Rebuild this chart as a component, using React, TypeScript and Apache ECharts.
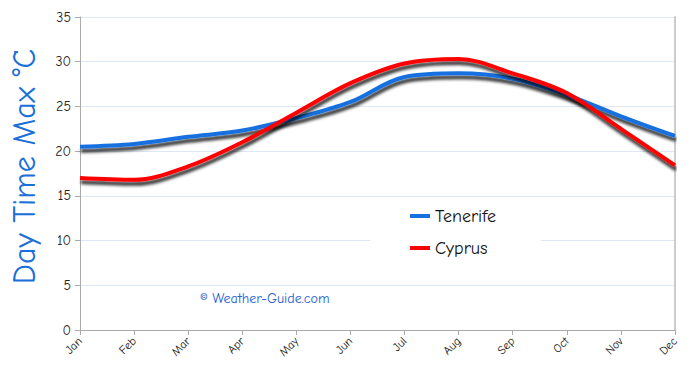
import React, { useEffect, useRef } from "react";
import * as echarts from "echarts";

const months = ["Jan", "Feb", "Mar", "Apr", "May", "Jun", "Jul", "Aug", "Sep", "Oct", "Nov", "Dec"];
const tenerife = [20.5, 20.8, 21.6, 22.3, 23.7, 25.5, 28.3, 28.7, 28.1, 26.3, 23.9, 21.7];
const cyprus = [17.0, 16.8, 18.3, 21.0, 24.3, 27.6, 29.8, 30.3, 28.7, 26.5, 22.5, 18.4];
const seriesNames = ["Tenerife", "Cyprus"];
const seriesColors = ["#1570e0", "#ff0000"];

const FONT = "'Comic Sans MS', 'Comic Neue', 'DejaVu Sans', sans-serif";

export default function App() {
  const ref = useRef<HTMLDivElement>(null);
  useEffect(() => {
    document.body.style.margin = "0";
    if (!ref.current) return;
    const chart = echarts.init(ref.current, undefined, { renderer: "svg" });
    const shadow = {
      shadowColor: "rgba(0,0,0,0.8)",
      shadowBlur: 3,
      shadowOffsetY: 4,
      shadowOffsetX: 1,
    };
    const mk = (name: string, data: number[], color: string) => ({
      name,
      type: "line",
      data,
      smooth: 0.35,
      symbol: "none",
      xAxisIndex: 0,
      yAxisIndex: 0,
      itemStyle: { color },
      lineStyle: { color, width: 4, ...shadow },
      z: 3,
    });
    chart.setOption({
      animation: false,
      backgroundColor: "#ffffff",
      grid: { left: 80, right: 15, top: 17, bottom: 45, containLabel: false, outerBoundsMode: "none" },
      legend: {
        orient: "vertical",
        left: 370,
        top: 200,
        width: 175,
        padding: [6, 45, 6, 40],
        backgroundColor: "#ffffff",
        icon: "rect",
        itemWidth: 20,
        itemHeight: 4,
        itemGap: 12,
        data: seriesNames,
        textStyle: { fontFamily: FONT, fontSize: 18, color: "#111", lineHeight: 20 },
        itemStyle: { shadowBlur: 0, shadowOffsetX: 0, shadowOffsetY: 0, shadowColor: "transparent" },
        lineStyle: { shadowBlur: 0, shadowOffsetX: 0, shadowOffsetY: 0, shadowColor: "transparent" },
        z: 5,
      },
      xAxis: [
        {
          type: "category",
          data: months,
          boundaryGap: false,
          axisLine: { lineStyle: { color: "#aaaaaa", width: 1 } },
          axisTick: { show: true, length: 5, lineStyle: { color: "#aaaaaa" }, alignWithLabel: true },
          axisLabel: { interval: 0, rotate: 45, fontFamily: FONT, fontSize: 12, color: "#222", margin: 9 },
          splitLine: { show: false },
        },
        {
          type: "category",
          data: months,
          position: "top",
          boundaryGap: false,
          axisLine: { lineStyle: { color: "#aaaaaa", width: 1 } },
          axisTick: { show: false },
          axisLabel: { show: false },
          splitLine: { show: false },
        },
      ],
      yAxis: [
        {
          type: "value",
          min: 0,
          max: 35,
          interval: 5,
          name: "Day Time Max °C",
          nameLocation: "middle",
          nameGap: 40,
          nameTextStyle: { fontFamily: FONT, fontSize: 32, color: "#1a6fd9", padding: [0, 0, 0, 14] },
          axisLine: { show: true, lineStyle: { color: "#aaaaaa", width: 1 } },
          axisTick: { show: true, length: 5, lineStyle: { color: "#aaaaaa" } },
          axisLabel: { fontFamily: FONT, fontSize: 14, color: "#222", margin: 9 },
          splitLine: { show: true, lineStyle: { color: "#dde7f5", width: 1 } },
        },
        {
          type: "value",
          min: 0,
          max: 35,
          interval: 5,
          position: "right",
          axisLine: { show: true, lineStyle: { color: "#cccccc", width: 2 } },
          axisTick: { show: false },
          axisLabel: { show: false },
          splitLine: { show: false },
        },
      ],
      graphic: [
        {
          type: "text",
          left: 200,
          top: 291,
          style: {
            text: "© Weather-Guide.com",
            fontFamily: FONT,
            fontSize: 14,
            fill: "#2060d0",
          },
          z: 4,
        },
      ],
      series: [
        mk(seriesNames[0], tenerife, seriesColors[0]),
        mk(seriesNames[1], cyprus, seriesColors[1]),
      ],
    });
    return () => chart.dispose();
  }, []);
  return <div ref={ref} style={{ width: 690, height: 375 }} />;
}
